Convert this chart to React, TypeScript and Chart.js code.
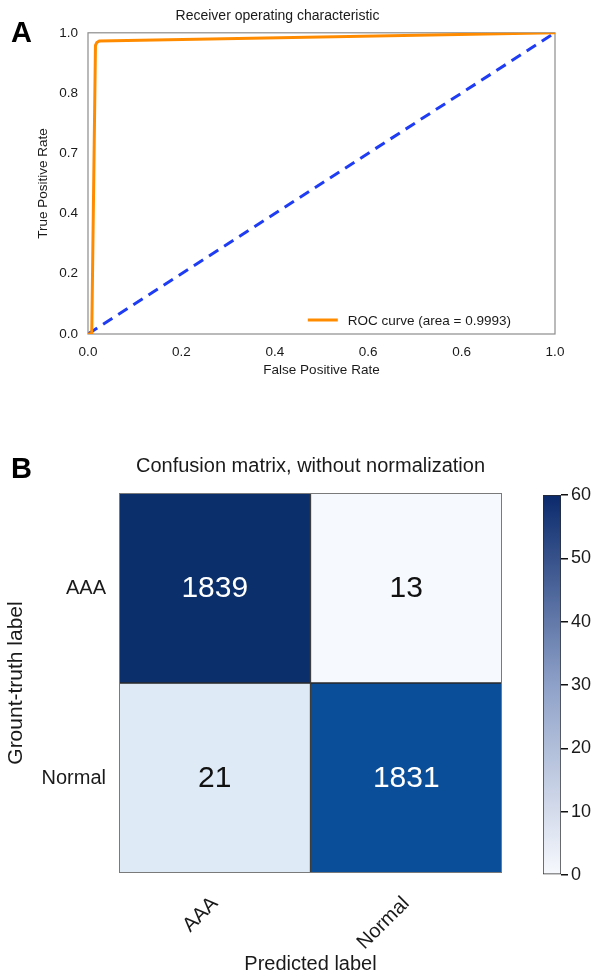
import React, { useEffect, useRef } from "react";
import { Chart, registerables } from "chart.js";
Chart.register(...registerables);

const FONT = "'Liberation Sans', Arial, Helvetica, sans-serif";
const TEXT = "#1a1a1a";

// ---------- Panel A data ----------
const panelALetter = "A";
const rocTitle = "Receiver operating characteristic";
const rocLabel = "ROC curve (area = 0.9993)";
const rocFpr = [0, 0.008, 0.016, 0.019, 0.024, 1];
const rocTpr = [0, 0, 0.958, 0.968, 0.973, 1];
const chanceFpr = [0, 1];
const chanceTpr = [0, 1];
const xTickLabelsA = ["0.0", "0.2", "0.4", "0.6", "0.6", "1.0"];
const yTickLabelsA = ["0.0", "0.2", "0.4", "0.7", "0.8", "1.0"];
const xTitleA = "False Positive Rate";
const yTitleA = "True Positive Rate";

// ---------- Panel B data ----------
const panelBLetter = "B";
const cmTitle = "Confusion matrix, without normalization";
const rowLabels = ["AAA", "Normal"];
const colLabels = ["AAA", "Normal"];
const cmRowAAA = [1839, 13];
const cmRowNormal = [21, 1831];
const cmValues = [cmRowAAA, cmRowNormal];
const xTitleB = "Predicted label";
const yTitleB = "Grount-truth label";
const colorbarMin = 0;
const colorbarMax = 60;
const colorbarStep = 10;

// styles
const cellColors = [
  ["#0a2f6b", "#f6f9fe"],
  ["#deeaf6", "#0a4d98"],
];
const cellTextColors = [
  ["#ffffff", "#111111"],
  ["#111111", "#ffffff"],
];

function useChart(ref: React.RefObject<HTMLCanvasElement>, make: (c: HTMLCanvasElement) => Chart) {
  useEffect(() => {
    if (!ref.current) return;
    const ch = make(ref.current);
    return () => ch.destroy();
  }, []);
}

export default function App() {
  const refA = useRef<HTMLCanvasElement>(null);
  const refB = useRef<HTMLCanvasElement>(null);
  const refC = useRef<HTMLCanvasElement>(null);

  useChart(refA, (cv) => {
    const framePlugin = {
      id: "frameA",
      beforeDatasetsDraw(chart: any) {
        const { ctx, chartArea: a } = chart;
        ctx.save();
        ctx.strokeStyle = "#8c8c8c";
        ctx.lineWidth = 1.2;
        ctx.strokeRect(a.left, a.top, a.right - a.left, a.bottom - a.top);
        ctx.restore();
      },
      afterDraw(chart: any) {
        const { ctx, chartArea: a } = chart;
        ctx.save();
        // panel letter
        ctx.fillStyle = "#000";
        ctx.font = `bold 29px ${FONT}`;
        ctx.textBaseline = "alphabetic";
        ctx.fillText(panelALetter, 11, 42);
        // legend
        const ds = chart.data.datasets[0];
        ctx.font = `13.5px ${FONT}`;
        const tw = ctx.measureText(ds.label).width;
        const textRight = a.right - 44;
        const textLeft = textRight - tw;
        const ly = a.bottom - 14;
        ctx.strokeStyle = ds.borderColor;
        ctx.lineWidth = 3;
        ctx.beginPath();
        ctx.moveTo(textLeft - 40, ly);
        ctx.lineTo(textLeft - 10, ly);
        ctx.stroke();
        ctx.fillStyle = TEXT;
        ctx.textBaseline = "middle";
        ctx.fillText(ds.label, textLeft, ly + 1);
        ctx.restore();
      },
    };
    return new Chart(cv, {
      type: "scatter",
      data: {
        datasets: [
          {
            label: rocLabel,
            data: rocFpr.map((x, i) => ({ x, y: rocTpr[i] })),
            showLine: true,
            borderColor: "#ff8c00",
            backgroundColor: "#ff8c00",
            borderWidth: 3,
            pointRadius: 0,
            borderJoinStyle: "round",
          },
          {
            label: "chance",
            data: chanceFpr.map((x, i) => ({ x, y: chanceTpr[i] })),
            showLine: true,
            borderColor: "#1f3cf5",
            borderWidth: 3,
            borderDash: [11, 7],
            pointRadius: 0,
          },
        ],
      },
      options: {
        responsive: false,
        animation: false,
        layout: { padding: { left: 0, right: 49, top: 0, bottom: 0 } },
        plugins: {
          legend: { display: false },
          tooltip: { enabled: false },
          title: {
            display: true,
            text: rocTitle,
            color: TEXT,
            font: { family: FONT, size: 14, weight: "normal" },
            padding: { top: 8, bottom: 8 },
          },
        },
        scales: {
          x: {
            type: "linear",
            min: 0,
            max: 1,
            afterFit: (s: any) => { s.height = 66; },
            ticks: {
              stepSize: 0.2,
              autoSkip: false,
              maxRotation: 0,
              padding: 10,
              color: TEXT,
              font: { family: FONT, size: 13.5 },
              callback: (_v: any, i: number) => xTickLabelsA[i],
            },
            grid: { display: false, drawTicks: false },
            border: { display: false },
            title: {
              display: true,
              text: xTitleA,
              color: TEXT,
              font: { family: FONT, size: 13.5 },
              padding: { top: 0, bottom: 22 },
            },
          },
          y: {
            type: "linear",
            min: 0,
            max: 1,
            afterFit: (s: any) => { s.width = 88; },
            ticks: {
              stepSize: 0.2,
              autoSkip: false,
              padding: 10,
              color: TEXT,
              font: { family: FONT, size: 13.5 },
              callback: (_v: any, i: number) => yTickLabelsA[i],
            },
            grid: { display: false, drawTicks: false },
            border: { display: false },
            title: {
              display: true,
              text: yTitleA,
              color: TEXT,
              font: { family: FONT, size: 13.5 },
              padding: { top: 35, bottom: 0 },
            },
          },
        },
      },
      plugins: [framePlugin],
    } as any);
  });

  useChart(refB, (cv) => {
    const cellPlugin = {
      id: "cellText",
      afterDatasetsDraw(chart: any) {
        const { ctx } = chart;
        ctx.save();
        ctx.font = `30px ${FONT}`;
        ctx.textAlign = "center";
        ctx.textBaseline = "middle";
        chart.data.datasets.forEach((_ds: any, i: number) => {
          const meta = chart.getDatasetMeta(i);
          meta.data.forEach((el: any, j: number) => {
            ctx.fillStyle = cellTextColors[i][j];
            ctx.fillText(String(cmValues[i][j]), el.x, (el.y + el.base) / 2 + 1);
          });
        });
        ctx.restore();
      },
      afterDraw(chart: any) {
        const { ctx, chartArea: a } = chart;
        ctx.save();
        ctx.strokeStyle = "#7a7a7a";
        ctx.lineWidth = 1;
        ctx.strokeRect(a.left + 0.5, a.top + 0.5, a.right - a.left - 1, a.bottom - a.top - 1);
        ctx.fillStyle = "#000";
        ctx.font = `bold 29px ${FONT}`;
        ctx.textBaseline = "alphabetic";
        ctx.fillText(panelBLetter, 11, 58);
        ctx.restore();
      },
    };
    return new Chart(cv, {
      type: "bar",
      data: {
        labels: colLabels,
        datasets: rowLabels.map((r, i) => ({
          label: r,
          data: colLabels.map(() => [i, i + 1]),
          backgroundColor: cellColors[i],
          borderColor: "#2a2a2a",
          borderWidth: 1,
          borderSkipped: false,
          grouped: false,
          barPercentage: 1,
          categoryPercentage: 1,
        })),
      },
      options: {
        responsive: false,
        animation: false,
        layout: { padding: { left: 0, right: 28, top: 0, bottom: 0 } },
        plugins: {
          legend: { display: false },
          tooltip: { enabled: false },
          title: {
            display: true,
            fullSize: false,
            text: cmTitle,
            color: TEXT,
            font: { family: FONT, size: 20, weight: "normal" },
            padding: { top: 34, bottom: 15 },
          },
        },
        scales: {
          x: {
            type: "category",
            afterFit: (s: any) => { s.height = 103; },
            ticks: {
              autoSkip: false,
              minRotation: 45,
              maxRotation: 45,
              padding: 19,
              color: TEXT,
              font: { family: FONT, size: 20 },
            },
            grid: { display: false, drawTicks: false },
            border: { display: false },
            title: {
              display: true,
              text: xTitleB,
              color: TEXT,
              font: { family: FONT, size: 20 },
              padding: { top: 0, bottom: 0 },
            },
          },
          y: {
            type: "linear",
            min: 0,
            max: rowLabels.length,
            reverse: true,
            afterFit: (s: any) => { s.width = 119; },
            afterBuildTicks: (s: any) => {
              s.ticks = rowLabels.map((_r, i) => ({ value: i + 0.5 }));
            },
            ticks: {
              autoSkip: false,
              padding: 13,
              color: TEXT,
              font: { family: FONT, size: 20 },
              callback: (_v: any, i: number) => rowLabels[i],
            },
            grid: { display: false, drawTicks: false },
            border: { display: false },
            title: {
              display: true,
              text: yTitleB,
              color: TEXT,
              font: { family: FONT, size: 21 },
              padding: { top: 4, bottom: 0 },
            },
          },
        },
      },
      plugins: [cellPlugin],
    } as any);
  });

  useChart(refC, (cv) => {
    return new Chart(cv, {
      type: "bar",
      data: {
        labels: ["colorbar"],
        datasets: [
          {
            data: [[colorbarMin, colorbarMax]],
            backgroundColor: (ctx: any) => {
              const a = ctx.chart.chartArea;
              if (!a) return "#ffffff";
              const g = ctx.chart.ctx.createLinearGradient(0, a.bottom, 0, a.top);
              g.addColorStop(0, "#f7f9fd");
              g.addColorStop(0.5, "#8ea1c8");
              g.addColorStop(1, "#0b2a6c");
              return g;
            },
            borderColor: "#2a2a2a",
            borderWidth: 1,
            borderSkipped: false,
            barPercentage: 1,
            categoryPercentage: 1,
          },
        ],
      },
      options: {
        responsive: false,
        animation: false,
        layout: { padding: { left: 23, right: 0, top: 75, bottom: 101 } },
        plugins: { legend: { display: false }, tooltip: { enabled: false }, title: { display: false } },
        scales: {
          x: { display: false },
          y: {
            position: "right",
            min: colorbarMin,
            max: colorbarMax,
            afterFit: (s: any) => { s.width = 43; },
            ticks: {
              stepSize: colorbarStep,
              padding: 3,
              color: TEXT,
              font: { family: FONT, size: 18 },
            },
            grid: {
              display: true,
              drawOnChartArea: false,
              drawTicks: true,
              tickLength: 7,
              color: "#111",
              lineWidth: 1.5,
            },
            border: { display: false },
          },
        },
      },
    } as any);
  });

  const abs = (left: number, top: number, w: number, h: number): React.CSSProperties => ({
    position: "absolute",
    left,
    top,
    width: w,
    height: h,
    display: "block",
  });

  return (
    <div style={{ position: "absolute", left: 0, top: 0, width: 604, height: 976, background: "#fff" }}>
      <canvas ref={refA} width={604} height={400} style={abs(0, 0, 604, 400)} />
      <canvas ref={refB} width={530} height={556} style={abs(0, 420, 530, 556)} />
      <canvas ref={refC} width={84} height={556} style={abs(520, 420, 84, 556)} />
    </div>
  );
}
